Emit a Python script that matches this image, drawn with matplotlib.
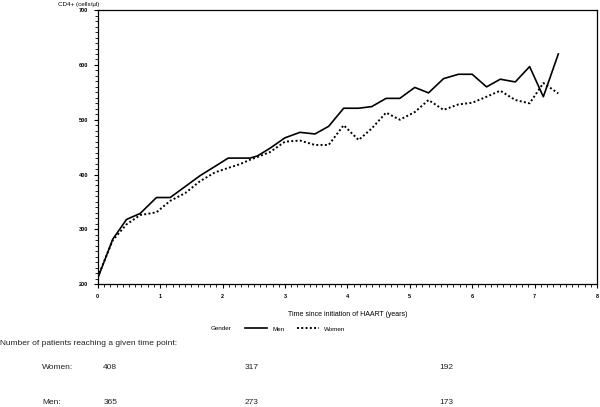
import matplotlib
matplotlib.use("Agg")
import matplotlib.pyplot as plt
from matplotlib.ticker import MultipleLocator
from matplotlib.offsetbox import HPacker

plt.rcParams['font.family'] = ['Liberation Sans', 'DejaVu Sans']

# years since start of HAART
years = [0, 0.24, 0.46, 0.68, 0.94, 1.16, 1.40, 1.64, 1.88, 2.09, 2.28, 2.44,
         2.56, 2.76, 3.00, 3.24, 3.48, 3.70, 3.94, 4.18, 4.39, 4.62, 4.84,
         5.08, 5.30, 5.54, 5.78, 6.00, 6.23, 6.45, 6.69, 6.92, 7.14, 7.38]
cd4_men = [211, 282, 318, 329, 358, 358, 378, 398, 415, 430, 430, 430,
           434, 448, 467, 477, 474, 488, 521, 521, 524, 539, 539,
           559, 549, 575, 583, 583, 560, 574, 569, 597, 542, 620]
cd4_women = [213, 280, 309, 326, 331, 352, 366, 388, 404, 412, 419, 427,
             432, 441, 460, 462, 454, 454, 490, 463, 484, 513, 500,
             514, 536, 518, 528, 531, 542, 553, 536, 530, 567, 548]

count_rows = ['Women:', 'Men:']
counts_women = ['408', '317', '192']
counts_men = ['365', '273', '173']

fig = plt.figure(figsize=(6, 4.07), dpi=100)
ax = fig.add_axes([0.163, 0.302, 0.832, 0.673])

ax.plot(years, cd4_men, color='black', linewidth=1.2, label='Men')
ax.plot(years, cd4_women, color='black', linewidth=1.4, linestyle=(0, (1, 1.2)), label='Women')

ax.set_xlim(0, 8)
ax.set_ylim(200, 700)
ax.xaxis.set_major_locator(MultipleLocator(1))
ax.xaxis.set_minor_locator(MultipleLocator(0.1))
ax.yaxis.set_major_locator(MultipleLocator(100))
ax.yaxis.set_minor_locator(MultipleLocator(10))
ax.tick_params(which='major', length=3, width=0.8, labelsize=4, pad=4)
ax.tick_params(which='minor', length=2, width=0.6)
for lbl in ax.get_xticklabels() + ax.get_yticklabels():
    lbl.set_fontweight('bold')
for sp in ax.spines.values():
    sp.set_linewidth(0.9)

ax.set_xlabel('Time since initiation of HAART (years)', fontsize=5, labelpad=9)
fig.text(0.097, 0.988, 'CD4+ (cells/µl)', fontsize=4.5, ha='left', va='center')

# legend row under the axis, title placed beside the entries
leg = fig.legend(loc='center', bbox_to_anchor=(0.463, 0.192), ncol=2, frameon=False,
                 fontsize=4.5, handlelength=3.5, columnspacing=2, title='Gender',
                 title_fontsize=4.5)
leg._legend_box._children = [HPacker(pad=0, sep=10,
                                     children=[leg._legend_title_box, leg._legend_handle_box],
                                     align='center')]

fig.text(0.0, 0.157, 'Number of patients reaching a given time point:', fontsize=6,
         ha='left', va='center', color='#222222')
count_x = [0.172, 0.408, 0.733]
for row_y, label, vals in [(0.098, count_rows[0], counts_women), (0.010, count_rows[1], counts_men)]:
    fig.text(0.07, row_y, label, fontsize=6, ha='left', va='center', color='#222222')
    for xx, v in zip(count_x, vals):
        fig.text(xx, row_y, v, fontsize=6, ha='left', va='center', color='#222222')

fig.savefig('out.png', dpi=100)
